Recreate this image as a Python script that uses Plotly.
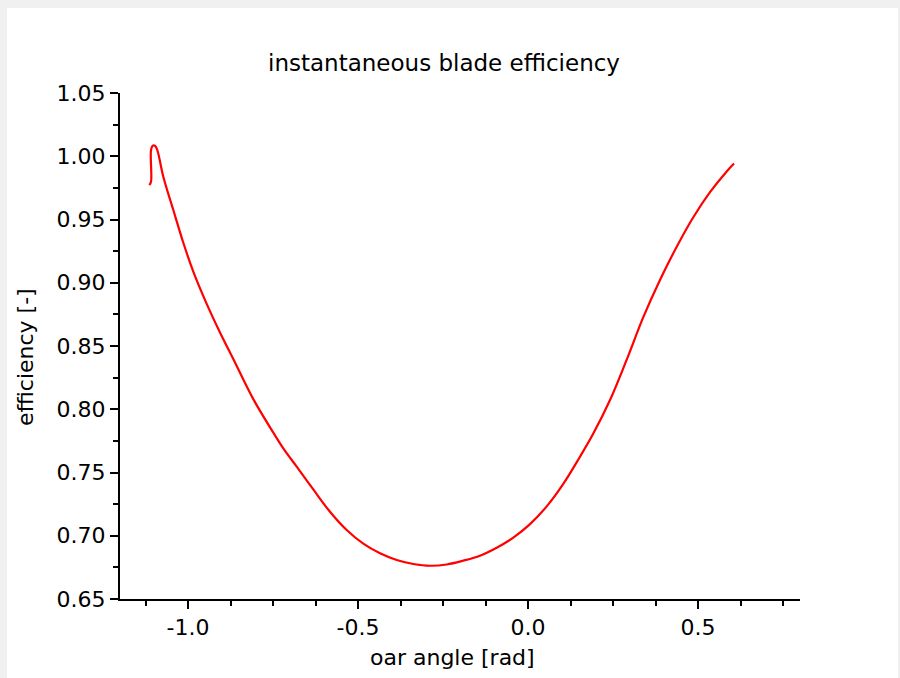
import plotly.graph_objects as go

# ---- data ----
oar_angle = [-1.1138, -1.1088, -1.1088, -1.1038, -1.0971, -1.0903, -1.0726, -1.0432,
             -1.0138, -0.9844, -0.9450, -0.9059, -0.8668, -0.8079, -0.7491, -0.7197,
             -0.6803, -0.6315, -0.5824, -0.5332, -0.4844, -0.4353, -0.3862, -0.3374,
             -0.2882, -0.2391, -0.1903, -0.1412, -0.0921, -0.0432, 0.0059, 0.0550,
             0.1038, 0.1529, 0.1921, 0.2412, 0.2903, 0.3391, 0.3882, 0.4374,
             0.4862, 0.5353, 0.5844, 0.6059]
efficiency = [0.9773, 0.9799, 1.0049, 1.0083, 1.0083, 1.0049, 0.9838, 0.9575,
              0.9316, 0.9088, 0.8833, 0.8607, 0.8397, 0.8080, 0.7815, 0.7691,
              0.7546, 0.7366, 0.7190, 0.7045, 0.6937, 0.6861, 0.6808, 0.6777,
              0.6763, 0.6773, 0.6803, 0.6842, 0.6905, 0.6985, 0.7092, 0.7232,
              0.7410, 0.7625, 0.7808, 0.8073, 0.8392, 0.8728, 0.9022, 0.9285,
              0.9518, 0.9716, 0.9880, 0.9942]

x_tick_vals = [-1.0, -0.5, 0.0, 0.5]
x_tick_text = ["-1.0", "-0.5", "0.0", "0.5"]
y_tick_vals = [0.65, 0.70, 0.75, 0.80, 0.85, 0.90, 0.95, 1.00, 1.05]
y_tick_text = ["0.65", "0.70", "0.75", "0.80", "0.85", "0.90", "0.95", "1.00", "1.05"]

title_text = "instantaneous blade efficiency"
x_title = "oar angle [rad]"
y_title = "efficiency [-]"

FONT = "DejaVu Sans"
W, H = 900, 678
L, R, T, B = 120, 100, 93, 79
PW, PH = W - L - R, H - T - B


def px(xp):
    return (xp - L) / PW


def py(yp):
    return (H - B - yp) / PH


fig = go.Figure()
fig.add_trace(go.Scatter(x=oar_angle, y=efficiency, mode="lines",
                         line=dict(color="#ff0000", width=2.2, shape="spline", smoothing=1.0),
                         showlegend=False, hoverinfo="x+y"))

axis_common = dict(showline=True, linecolor="black", linewidth=2, ticks="outside",
                   tickwidth=2, tickcolor="black", ticklen=8, showgrid=False,
                   zeroline=False, tickfont=dict(family=FONT, size=22, color="black"))

fig.update_xaxes(range=[-1.2, 0.8], tickmode="array", tickvals=x_tick_vals,
                 ticktext=x_tick_text,
                 minor=dict(dtick=0.125, tick0=-1.0, ticks="outside", ticklen=5,
                            tickwidth=2, tickcolor="black", showgrid=False),
                 **axis_common)
fig.update_yaxes(range=[0.65, 1.05], tickmode="array", tickvals=y_tick_vals,
                 ticktext=y_tick_text,
                 minor=dict(dtick=0.025, tick0=0.65, ticks="outside", ticklen=5,
                            tickwidth=2, tickcolor="black", showgrid=False),
                 **axis_common)

fig.update_layout(
    width=W, height=H,
    margin=dict(l=L, r=R, t=T, b=B, pad=0),
    paper_bgcolor="#f0f0f0",
    plot_bgcolor="white",
    font=dict(family=FONT, color="black"),
    title=dict(text=title_text, x=444 / W, xanchor="center", xref="container",
               y=1 - 63 / H, yanchor="middle", yref="container",
               font=dict(family=FONT, size=23, color="black")),
    shapes=[dict(type="rect", xref="paper", yref="paper", layer="below",
                 x0=px(7), x1=px(898), y0=py(H + 20), y1=py(8),
                 fillcolor="white", line=dict(width=0))],
    annotations=[
        dict(text=x_title, xref="paper", yref="paper", x=px(452), y=py(657),
             xanchor="center", yanchor="middle", showarrow=False,
             font=dict(family=FONT, size=22, color="black")),
        dict(text=y_title, xref="paper", yref="paper", x=px(25), y=py(357),
             xanchor="center", yanchor="middle", showarrow=False, textangle=-90,
             font=dict(family=FONT, size=22, color="black")),
    ],
)

fig.write_html("out.html")
